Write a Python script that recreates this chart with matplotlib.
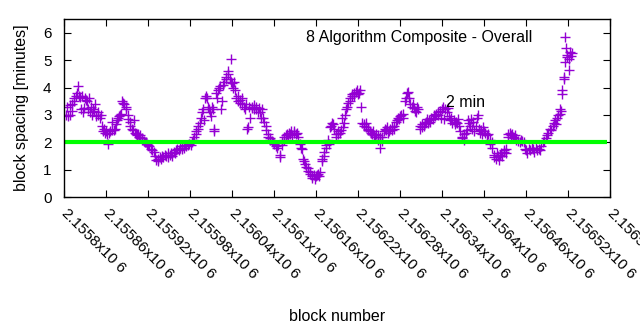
import numpy as np
import matplotlib
matplotlib.use("Agg")
from matplotlib import pyplot as plt

plt.rcParams['font.family'] = ['Liberation Sans', 'DejaVu Sans']
plt.rcParams['font.size'] = 10.5

BASE = 2155800  # first block on the axis

# block offsets from BASE
offs = [3, 5, 6, 8, 9, 11, 12, 14, 15, 17, 19, 20, 21, 23, 24, 26, 27, 29, 30, 31, 33, 34, 36, 37, 39, 40, 42, 43, 45, 46, 48, 49, 51, 53,
        54, 56, 57, 59, 60, 62, 63, 64, 66, 68, 69, 71, 73, 74, 76, 77, 79, 80, 82, 83, 85, 86, 88, 89, 91,
        92, 94, 95, 97, 98, 100, 101, 103, 104, 106, 107, 109, 111, 112, 114, 116, 117, 119, 120, 122, 124, 126, 128, 130,
        132, 134, 135, 137, 139, 140, 142, 144, 146, 148, 149, 151, 153, 155, 157, 159, 160, 162, 164, 166, 168, 169, 171, 173, 175, 177, 179, 181, 183, 185, 186,
        188, 189, 191, 192, 194, 196, 197, 199, 200, 202, 203, 204, 206, 207, 208, 210, 211, 213, 214, 215, 217, 218, 220, 221, 223, 224, 226, 227,
        229, 231, 232, 234, 235, 237, 238, 239, 240, 242, 243, 245, 246, 248, 249, 251, 252, 254, 255, 257, 258, 260, 262, 263, 265, 266, 268, 269,
        271, 272, 274, 275, 277, 278, 280, 282, 283, 285, 286, 288, 289, 291, 292, 294, 295, 297, 299, 300, 303, 305, 306, 308, 309, 311, 312, 314, 315, 317, 318, 320, 322, 323, 325, 326, 328, 329, 331, 333,
        335, 337, 339, 340, 342, 343, 345, 346, 348, 349, 351, 352, 354, 355, 357, 358, 360, 362, 363, 365, 366, 368, 369, 371, 372, 374, 375, 377, 378,
        380, 382, 383, 385, 386, 388, 389, 391, 392, 394, 396, 397, 399, 400, 402, 403, 405, 406, 408, 409, 411, 412, 414, 415, 417, 418, 420, 421, 423, 424,
        426, 428, 429, 431, 432, 434, 435, 437, 438, 440, 441, 443, 445, 446, 448, 449, 451, 452, 454, 455, 457, 458, 460, 461,
        463, 465, 466, 468, 469, 471, 472, 474, 476, 477, 479, 480, 482, 484, 485, 487, 489, 490, 492, 493,
        495, 497, 498, 500, 502, 503, 505, 506, 508, 509, 511, 512, 514, 516, 517, 519, 520, 522, 523, 525, 527, 528, 530, 532, 534, 535,
        537, 539, 540, 542, 543, 545, 547, 548, 550, 551, 553, 555, 557, 558, 560, 562, 563, 565, 566, 568, 569, 571, 572, 574, 576, 577, 579, 580, 582, 583, 585, 586, 588, 590, 591, 593, 594, 596, 597, 599, 600, 602, 604, 606,
        608, 609, 611, 612, 614, 615, 617, 618, 620, 621, 623, 625, 626, 628, 629, 631, 632, 634, 635, 637, 638, 640, 642, 643, 645, 646, 649, 651, 653, 655, 657, 659, 660, 662,
        664, 666, 668, 670, 672, 674, 676, 678, 680, 682, 684, 686, 688, 690, 692, 694, 696, 698, 700, 702, 703, 705, 706, 708, 709, 710, 711, 712, 714, 715, 716, 717, 718, 719, 721, 722, 723, 724, 726]

# block spacing in minutes
spacing = [3.0, 3.3, 2.95, 3.35, 3.0, 3.4, 3.15, 3.6, 3.5, 3.7, 3.8, 4.05, 3.7, 3.65, 3.2, 3.7, 3.1, 3.25, 3.6, 3.55, 3.5, 3.2, 3.6, 3.1, 3.3, 3.0, 3.2, 3.15, 3.4, 2.95, 3.1, 3.0, 2.9, 3.0,
           2.6, 2.4, 2.5, 2.35, 2.4, 2.3, 1.95, 2.35, 2.4, 2.45, 2.75, 2.45, 2.5, 2.65, 2.8, 2.9, 2.95, 3.0, 3.05, 3.5, 3.45, 3.4, 3.3, 3.2, 3.0,
           2.85, 2.75, 2.6, 2.5, 2.45, 2.8, 2.35, 2.3, 2.25, 2.3, 2.2, 2.25, 2.15, 2.1, 2.05, 2.0, 2.0, 1.95, 1.9, 1.85, 1.75, 1.7, 1.65, 1.5,
           1.35, 1.4, 1.3, 1.45, 1.4, 1.5, 1.45, 1.55, 1.5, 1.45, 1.6, 1.55, 1.6, 1.5, 1.65, 1.6, 1.7, 1.75, 1.7, 1.8, 1.75, 1.85, 1.8, 1.9, 1.85, 1.9, 1.95, 1.9, 2.0, 2.1, 2.2,
           2.3, 2.4, 2.5, 2.6, 2.7, 2.9, 3.1, 3.2, 2.8, 3.6, 3.7, 3.6, 3.3, 3.2, 3.1, 2.95, 3.3, 3.2, 2.4, 2.5, 3.8, 3.6, 3.9, 4.0, 4.05, 3.2, 3.5, 4.1,
           4.2, 4.3, 4.4, 4.6, 4.5, 4.3, 5.05, 4.2, 4.15, 4.0, 4.2, 3.9, 3.6, 3.5, 3.7, 3.45, 3.55, 3.4, 3.6, 3.3, 3.2, 3.4, 2.5, 2.55, 3.3, 2.9, 3.25, 3.3,
           3.2, 3.35, 3.2, 3.3, 3.1, 3.25, 3.1, 2.9, 3.2, 2.9, 2.75, 2.6, 2.45, 2.3, 2.2, 2.1, 2.15, 2.05, 2.0, 1.95, 1.85, 1.8, 1.9, 1.55, 1.45, 1.9, 2.05, 2.1, 2.2, 2.25, 2.3, 2.2, 2.35, 2.3, 2.4, 2.25, 2.35, 2.4, 2.3, 2.35,
           2.2, 1.95, 1.8, 1.75, 1.4, 1.3, 1.2, 1.1, 1.05, 0.95, 0.9, 0.85, 0.75, 0.7, 0.8, 0.65, 0.75, 0.8, 0.85, 0.75, 0.9, 1.3, 1.4, 1.5, 1.65, 1.8, 1.9, 2.1, 1.95,
           2.55, 2.6, 2.7, 2.65, 2.5, 2.3, 2.2, 2.4, 2.3, 2.35, 2.45, 2.9, 2.55, 2.7, 3.0, 3.2, 3.3, 3.45, 3.5, 3.6, 3.7, 3.75, 3.8, 3.7, 3.85, 3.9, 3.75, 3.8, 3.9, 3.3,
           2.7, 2.6, 2.65, 2.55, 2.7, 2.5, 2.45, 2.4, 2.35, 2.3, 2.4, 2.25, 2.2, 2.3, 2.1, 2.25, 2.2, 1.8, 2.05, 2.2, 2.4, 2.5, 2.45, 2.55,
           2.35, 2.4, 2.5, 2.45, 2.55, 2.5, 2.6, 2.75, 2.8, 2.9, 2.85, 2.95, 3.0, 2.9, 3.05, 3.5, 3.6, 3.8, 3.85, 3.6,
           3.4, 3.3, 3.4, 3.25, 3.15, 3.1, 3.3, 3.2, 2.6, 2.5, 2.65, 2.55, 2.6, 2.7, 2.75, 2.85, 2.7, 2.8, 2.75, 2.9, 2.85, 3.0, 2.95, 3.05, 3.1, 3.0,
           3.15, 2.9, 3.2, 3.3, 2.85, 3.2, 3.1, 3.25, 2.95, 2.8, 2.9, 2.7, 2.8, 2.65, 2.75, 2.7, 2.85, 2.6, 2.4, 2.2, 2.15, 2.3, 2.1, 2.35, 2.45, 2.8, 2.7, 2.6, 2.85, 2.5, 2.75, 2.4, 2.6, 2.9, 3.0, 2.5, 2.35, 2.45, 2.3, 2.55, 2.4, 2.35, 2.25, 2.3,
           2.1, 1.95, 1.8, 2.0, 1.55, 1.45, 1.4, 1.6, 1.5, 1.35, 1.55, 1.6, 1.5, 1.7, 1.65, 1.75, 1.6, 2.2, 2.3, 2.35, 2.25, 2.3, 2.2, 2.15, 2.25, 2.1, 2.05, 2.0, 2.1, 2.05, 2.0, 1.75, 1.7, 1.6,
           1.75, 1.7, 1.8, 1.75, 1.65, 1.8, 1.7, 1.75, 1.7, 1.85, 2.0, 2.05, 2.15, 2.25, 2.35, 2.5, 2.45, 2.6, 2.7, 2.8, 2.65, 2.9, 3.0, 3.05, 3.2, 3.15, 3.75, 3.9, 4.3, 4.4, 4.95, 5.45, 5.1, 5.2, 4.65, 5.05, 5.3, 5.15, 5.25]

xticks = np.arange(2155800, 2156581, 60)
target = 2  # minutes

blocks = BASE + np.array(offs)

fig = plt.figure(figsize=(6.4, 3.3), dpi=100)
ax = fig.add_axes([0.1, 0.403, 0.853, 0.539])

ax.plot(blocks, spacing, linestyle='none', marker='+', markersize=7.5, mew=1.0,
        color='#9400d3', label='8 Algorithm Composite - Overall')
ax.plot([xticks[0] + 2, xticks[-1] - 4], [target, target], color='#00ff00', lw=3.0, solid_capstyle='butt')
ax.text(BASE + 546, 3.44, '2 min', ha='left', va='center', fontsize=11.5)

ax.set_xlim(xticks[0], xticks[-1])
ax.set_ylim(0, 6.5)
ax.set_xticks(xticks)
ax.set_xticklabels(['%gx10 6' % (v / 1e6) for v in xticks], rotation=-45,
                   ha='left', va='center', rotation_mode='anchor')
ax.set_yticks(range(0, 7))
ax.tick_params(direction='in', length=5, top=True, right=True, labelsize=11)
ax.tick_params(axis='x', pad=10)
ax.tick_params(axis='y', pad=9)
for s in ax.spines.values():
    s.set_linewidth(1.0)

ax.set_xlabel('block number', fontsize=11.5, labelpad=20)
ax.set_ylabel('block spacing [minutes]', fontsize=11.5, labelpad=10)

ax.legend(loc='upper right', bbox_to_anchor=(0.96, 1.0), frameon=False, markerfirst=False,
          handlelength=1.5, handletextpad=1.3, fontsize=11.5, borderaxespad=0.3)

fig.savefig('out.png', dpi=100)
